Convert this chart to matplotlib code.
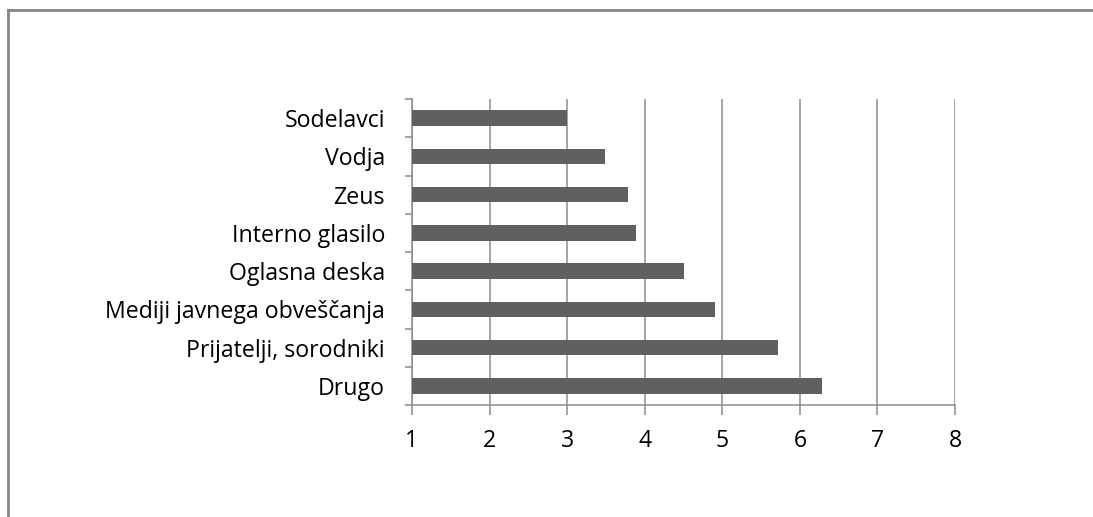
import matplotlib.pyplot as plt
from matplotlib.lines import Line2D
import numpy as np

# survey: where people get their information (mean score)
categories = ["Sodelavci", "Vodja", "Zeus", "Interno glasilo", "Oglasna deska",
              "Mediji javnega obveščanja", "Prijatelji, sorodniki", "Drugo"]
values = [3.0, 3.49, 3.79, 3.89, 4.51, 4.91, 5.72, 6.28]
x_ticks = [1, 2, 3, 4, 5, 6, 7, 8]

plt.rcParams["font.family"] = ["Open Sans", "DejaVu Sans"]

W, H = 1093, 517
fig = plt.figure(figsize=(W / 100, H / 100), dpi=100)
ax = fig.add_axes([412 / W, 1 - 405 / H, (955 - 412) / W, (405 - 99) / H])

y = np.arange(len(categories))
ax.barh(y, np.array(values) - 1, left=1, height=0.4, color="#606060", zorder=3)

ax.set_xlim(1, 8)
ax.set_ylim(len(categories) - 0.5, -0.5)
ax.set_xticks(x_ticks)
ax.set_xticklabels([str(t) for t in x_ticks])
ax.set_yticks(y)
ax.set_yticklabels(categories)
ax.set_yticks(np.arange(len(categories) + 1) - 0.5, minor=True)

ax.grid(axis="x", color="#8c8c8c", linewidth=1.1, zorder=0)
for side in ["top", "right"]:
    ax.spines[side].set_visible(False)
for side in ["left", "bottom"]:
    ax.spines[side].set_color("#8c8c8c")
    ax.spines[side].set_linewidth(1.1)

ax.tick_params(axis="y", which="major", length=0, pad=19.5, labelsize=16.7, labelcolor="#000000")
ax.tick_params(axis="y", which="minor", length=5, width=1.1, color="#8c8c8c")
ax.tick_params(axis="x", length=7, width=1.1, color="#8c8c8c", pad=10, labelsize=16.7)

# outer chart border, running off the right and bottom edges
fig.add_artist(Line2D([8 / W, 1.0], [1 - 10 / H, 1 - 10 / H], color="#868686", linewidth=2))
fig.add_artist(Line2D([8 / W, 8 / W], [0.0, 1 - 10 / H], color="#868686", linewidth=2))

fig.savefig("out.png", dpi=100)
